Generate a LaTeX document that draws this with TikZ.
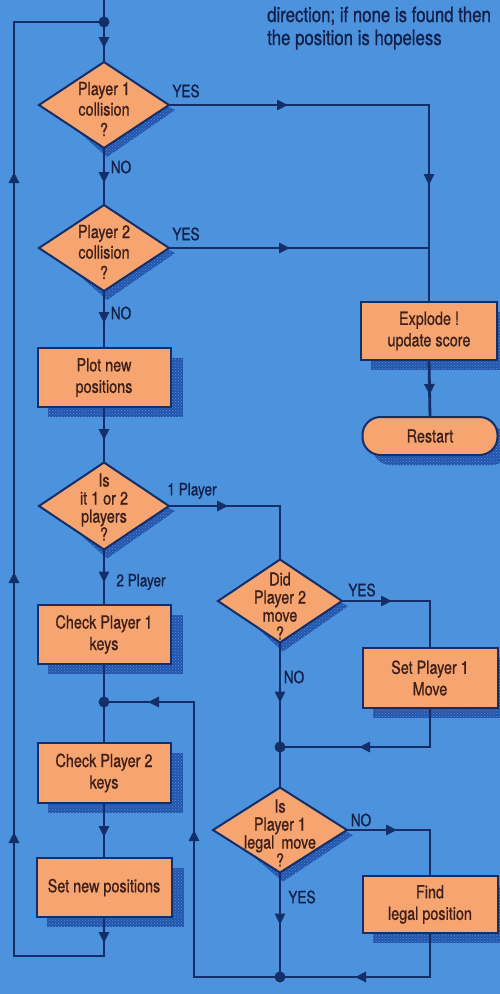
\documentclass[tikz,border=0pt]{standalone}
\usepackage{fontspec}
\setmainfont{TeX Gyre Heros}[FakeStretch=0.8, FakeBold=0.8]
\newfontfamily\medfont{TeX Gyre Heros}[FakeStretch=0.8, FakeBold=0.8]
\usetikzlibrary{shapes.geometric,arrows.meta,decorations.markings,patterns}
\definecolor{bgc}{RGB}{76,146,220}
\definecolor{linec}{RGB}{20,46,104}
\definecolor{boxc}{RGB}{246,164,112}
\definecolor{textc}{RGB}{62,32,26}
\definecolor{labc}{RGB}{18,32,74}
\definecolor{shc}{RGB}{36,84,172}
\pgfdeclarelayer{bglayer}
\pgfdeclarelayer{shlayer}
\pgfsetlayers{bglayer,shlayer,main}
\pgfkeys{/pgf/decoration/ah/.style={mark=at position #1 with {\arrow{Triangle[length=11pt,width=10pt]}}}}
\tikzset{
  conn/.style={draw=linec, line width=2.8pt},
  arr/.style={conn, postaction={decorate}, decoration={markings,#1}},
  box/.style={rectangle, draw=linec, line width=2pt, fill=boxc, inner sep=0pt, outer sep=0pt,
              align=center, text=textc, font=\medfont\fontsize{18}{21.5}\selectfont},
  dia/.style={diamond, draw=linec, line width=2pt, fill=boxc, inner sep=0pt, outer sep=0pt},
  dtxt/.style={align=center, text=textc, inner sep=0pt, font=\medfont\fontsize{18}{20.5}\selectfont},
  dtxtb/.style={align=center, text=textc, inner sep=0pt, font=\medfont\fontsize{18}{18}\selectfont},
  lab/.style={text=labc, inner sep=0pt, font=\medfont\fontsize{17}{20}\selectfont},
  note/.style={text=labc, inner sep=0pt, font=\medfont\fontsize{21}{25}\selectfont},
  shadow/.style={fill=shc, postaction={pattern=crosshatch dots, pattern color=bgc}},
  jdot/.style={fill=linec}
}
\begin{document}
\begin{tikzpicture}[x=1pt,y=-1pt]
\useasboundingbox (0,0) rectangle (500,994);
\begin{pgfonlayer}{bglayer}
  \fill[bgc] (0,0) rectangle (500,994);
\end{pgfonlayer}

% top note
\node[note, anchor=base west] (n1) at (267,22) {direction; if none is found then};
\node[note, anchor=base west] (n2) at (267,45) {the position is hopeless};

% left column
\node[dia, minimum width=130, minimum height=86] (D1) at (104,105) {};
\node[dtxt] (D1t) at ([yshift=-4pt]D1.center) {Player 1\\collision\\?};
\node[dia, minimum width=130, minimum height=86] (D2) at (104,248) {};
\node[dtxt] (D2t) at ([yshift=-4pt]D2.center) {Player 2\\collision\\?};
\node[box, minimum width=133, minimum height=59] (Plot) at (104,377.5) {Plot new\\positions};
\node[dia, minimum width=130, minimum height=87] (D3) at (104,506) {};
\node[dtxtb] (D3t) at ([yshift=-1pt]D3.center) {Is\\it 1 or 2\\players\\?};
\node[box, minimum width=133, minimum height=59] (CP1) at (104,634.5) {Check Player 1\\keys};
\node[box, minimum width=133, minimum height=60] (CP2) at (104,773) {Check Player 2\\keys};
\node[box, minimum width=135, minimum height=59] (SNP) at (104,887.5) {Set new positions};

% right column
\node[box, minimum width=136, minimum height=58] (Ex) at (429,331) {Explode !\\update score};
\node[box, minimum width=135, minimum height=38, rounded corners=18pt] (Rs) at (430,436) {Restart};
\node[dia, minimum width=124, minimum height=83] (D4) at (280,601) {};
\node[dtxtb] (D4t) at ([yshift=-5pt]D4.center) {Did\\Player 2\\move\\?};
\node[box, minimum width=135, minimum height=60] (SP) at (430,678) {Set Player 1\\Move};
\node[dia, minimum width=134, minimum height=85] (D5) at (280,830) {};
\node[dtxtb] (D5t) at ([yshift=-3pt]D5.center) {Is\\Player 1\\legal\, move\\?};
\node[box, minimum width=135, minimum height=57] (FL) at (430,904.5) {Find\\legal position};

% shadows
\begin{pgfonlayer}{shlayer}
  \foreach \n in {Plot,CP1,CP2,SNP,Ex,SP,FL}
    \fill[shadow] ([shift={(10,10)}]\n.north west) rectangle ([shift={(12,10)}]\n.south east);
  \fill[shadow, rounded corners=18pt] ([shift={(10,10)}]Rs.north west) rectangle ([shift={(12,10)}]Rs.south east);
  \foreach \n in {D1,D2,D3,D4,D5}
    \fill[shadow] ([shift={(14,4)}]\n.west) -- ([shift={(3,9)}]\n.south) -- ([shift={(6,5)}]\n.east) -- ([shift={(-4,0)}]\n.east) -- cycle;
\end{pgfonlayer}

% coordinates
\coordinate (top) at (104,0);
\coordinate (jtop) at (104,22);
\coordinate (j2) at (104,702);
\coordinate (j3) at (280,747);
\coordinate (j4) at (280,977);
\coordinate (bl) at (14,956);
\coordinate (lb) at (194,977);

% connectors
\draw[arr={ah=48pt}] (top) -- (D1.north);
\draw[arr={ah=35pt}] (D1.south) -- (D2.north);
\draw[arr={ah=119pt,ah=340pt}] (D1.east) -- (Ex |- D1.east) -- (Ex.north);
\draw[arr={ah=121pt}] (D2.east) -- (Ex |- D2.east);
\draw[arr={ah=32pt}] (D2.south) -- (Plot.north);
\draw[arr={ah=33pt}] (Plot.south) -- (D3.north);
\draw[arr={ah=35pt}] (Ex.south) -- (Rs.north);
\draw[arr={ah=59pt}] (D3.east) -- (D4 |- D3.east) -- (D4.north);
\draw[arr={ah=33pt}] (D3.south) -- (CP1.north);
\draw[conn] (CP1.south) -- (CP2.north);
\draw[arr={ah=34pt}] (CP2.south) -- (SNP.north);
\draw[arr={ah=26pt,ah=253pt,ah=513pt,ah=913pt}] (SNP.south) -- (SNP |- bl) -- (bl) -- (bl |- jtop) -- (jtop);
\draw[arr={ah=50pt}] (D4.east) -- (SP |- D4.east) -- (SP.north);
\draw[arr={ah=60pt}] (D4.south) -- (j3);
\draw[arr={ah=110pt}] (SP.south) -- (SP |- j3) -- (j3);
\draw[conn] (j3) -- (D5.north);
\draw[arr={ah=50pt}] (D5.east) -- (FL |- D5.east) -- (FL.north);
\draw[arr={ah=52pt}] (D5.south) -- (j4);
\draw[arr={ah=119pt}] (FL.south) -- (FL |- j4) -- (j4);
\draw[arr={ah=233pt,ah=407pt}] (j4) -- (lb) -- (lb |- j2) -- (j2);

% junction dots
\foreach \j in {jtop,j2,j3,j4} \fill[jdot] (\j) circle (5.5pt);

% labels
\node[lab] (y1) at (186,91) {YES};
\node[lab] (no1) at (121,167) {NO};
\node[lab] (y2) at (186,234) {YES};
\node[lab] (no2) at (121,313) {NO};
\node[lab] (p1) at (192,491) {1 Player};
\node[lab] (p2) at (141,582) {2 Player};
\node[lab] (y4) at (362,590) {YES};
\node[lab] (no4) at (294,677) {NO};
\node[lab] (no5) at (361,820) {NO};
\node[lab] (y5) at (302,897) {YES};
\end{tikzpicture}
\end{document}
